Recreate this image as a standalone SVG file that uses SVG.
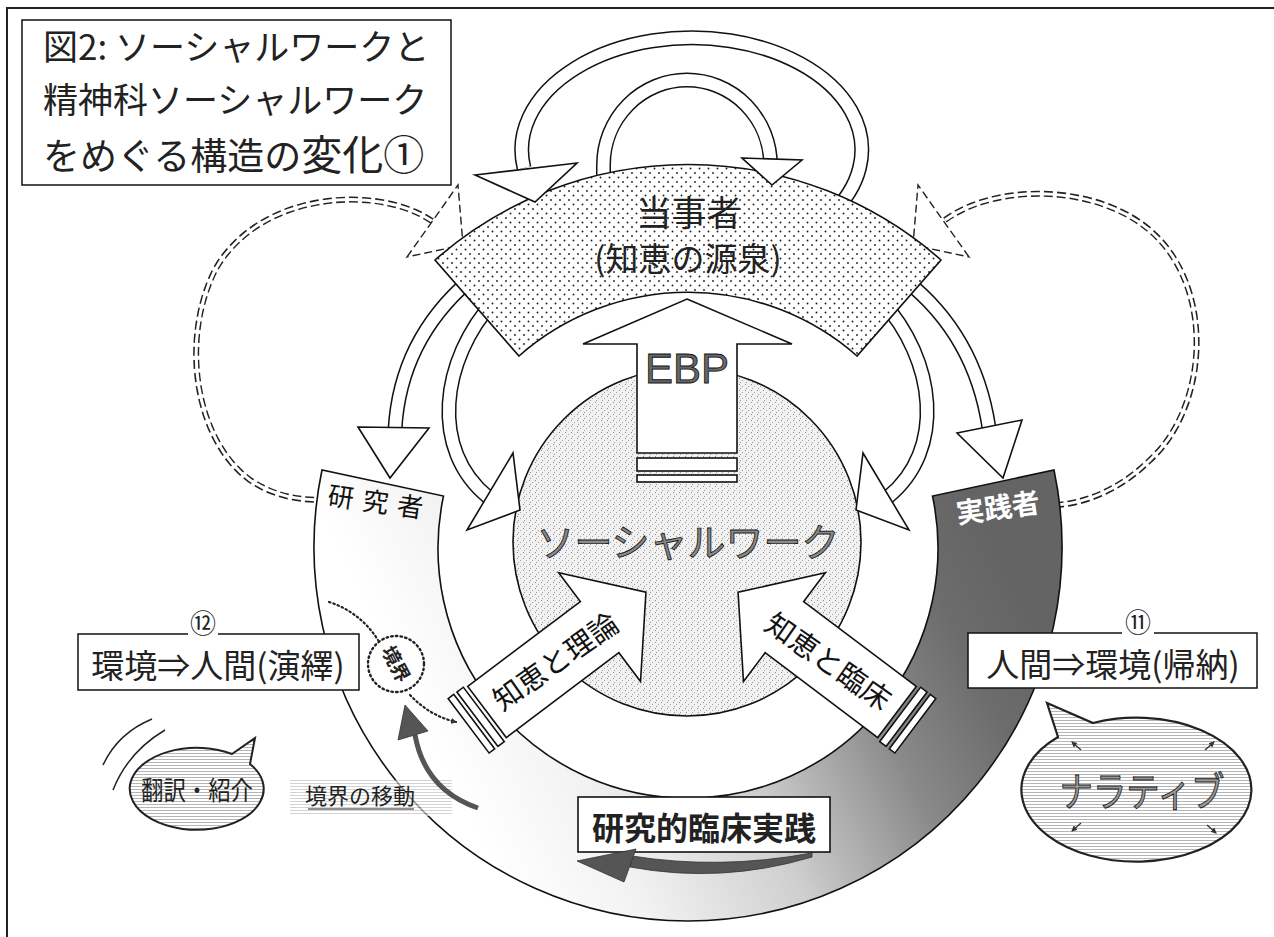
<svg xmlns="http://www.w3.org/2000/svg" width="1274" height="937" viewBox="0 0 1274 937">
<defs>
<style>
.jp{font-family:"Noto Sans CJK JP","Noto Sans",sans-serif}
.en{font-family:"Liberation Sans",Arial,sans-serif}
.ol{stroke:#111;stroke-width:1.6;stroke-linejoin:miter}
.wf{fill:#fff;stroke:#111;stroke-width:1.6}
.sb{fill:none;stroke:#111;stroke-width:15}
.sw{fill:none;stroke:#fff;stroke-width:12}
.dd1{fill:none;stroke:#222;stroke-width:6;stroke-dasharray:9 4}
.dd2{fill:none;stroke:#fff;stroke-width:3}
.dh{fill:#fff;stroke:#222;stroke-width:1.4;stroke-dasharray:8 4}
.ga{fill:#555;stroke:#333;stroke-width:0.8}
</style>
<pattern id="dots" width="9" height="9" patternUnits="userSpaceOnUse"><rect width="9" height="9" fill="#fff"/><circle cx="2" cy="2" r="0.95" fill="#222"/><circle cx="6.5" cy="6.5" r="0.95" fill="#222"/></pattern>
<pattern id="speck" width="6" height="6" patternUnits="userSpaceOnUse"><rect width="6" height="6" fill="#f1f1f1"/><rect x="1" y="0" width="1" height="1" fill="#8a8a8a"/><rect x="4" y="2" width="1" height="1" fill="#a5a5a5"/><rect x="2" y="4" width="1" height="1" fill="#999"/></pattern>
<pattern id="hl" width="6" height="3" patternUnits="userSpaceOnUse"><rect width="6" height="3" fill="#fff"/><rect width="6" height="1" fill="#b5b5b5"/></pattern>
<linearGradient id="ringG" gradientUnits="userSpaceOnUse" x1="470" y1="820" x2="1000" y2="560">
<stop offset="0" stop-color="#fff"/><stop offset="0.2" stop-color="#f2f2f2"/><stop offset="0.45" stop-color="#cfcfcf"/><stop offset="0.7" stop-color="#8a8a8a"/><stop offset="0.88" stop-color="#6c6c6c"/><stop offset="1" stop-color="#646464"/>
</linearGradient>
<g id="diag">
<rect x="-23" y="-34" width="7" height="68" class="wf"/>
<rect x="-12" y="-34" width="8" height="68" class="wf"/>
<polygon points="0,-32 141,-32 141,-68 199,0 141,68 141,32 0,32" class="wf"/>
</g>
<marker id="sm" markerWidth="6" markerHeight="6" refX="5" refY="3" orient="auto" markerUnits="userSpaceOnUse"><path d="M0,0 L6,3 L0,6 Z" fill="#333"/></marker>
</defs>

<rect width="1274" height="937" fill="#fff"/>
<path d="M7,937 L7,8 L1274,8" fill="none" stroke="#222" stroke-width="2"/>

<g id="dashed-loops">
<path class="dd1" d="M432,221 C380,185 260,190 215,270 C180,340 195,440 250,480 C275,497 300,500 325,500"/>
<path class="dd2" d="M432,221 C380,185 260,190 215,270 C180,340 195,440 250,480 C275,497 300,500 325,500"/>
<path class="dd1" d="M945,220 C1000,180 1110,185 1160,240 C1215,300 1205,410 1150,460 C1120,490 1085,503 1057,505"/>
<path class="dd2" d="M945,220 C1000,180 1110,185 1160,240 C1215,300 1205,410 1150,460 C1120,490 1085,503 1057,505"/>
<polygon class="dh" points="407,257 458,185 463,245"/>
<polygon class="dh" points="969,257 918,185 913,245"/>
</g>

<g id="ring">
<path d="M322,470 A374,374 0 1,0 1054,470 L932.5,496 A250,250 0 1,1 443.5,496 Z" fill="url(#ringG)" class="ol"/>
<text class="jp" x="380" y="512" font-size="26" fill="#111" text-anchor="middle" letter-spacing="9" transform="rotate(8 380 503)">研究者</text>
<text class="jp" x="998" y="518" font-size="28" font-weight="700" fill="#fff" text-anchor="middle" transform="rotate(-8 998 508)">実践者</text>
</g>

<g id="socialwork">
<circle cx="687" cy="542" r="174" fill="url(#speck)" class="ol"/>
<text class="jp" x="688" y="556" font-size="38" fill="#8a8a8a" stroke="#222" stroke-width="0.9" text-anchor="middle">ソーシャルワーク</text>
</g>

<g id="connectors">
<path class="sb" d="M830,215 A170,112 0 1,0 524,168"/>
<path class="sw" d="M830,215 A170,112 0 1,0 524,168"/>
<path class="sb" d="M603.5,195 L603.5,165 A83.5,85 0 0,1 770.5,165 L770.5,160"/>
<path class="sw" d="M603.5,195 L603.5,165 A83.5,85 0 0,1 770.5,165 L770.5,160"/>
<path class="sb" d="M470,280 Q400,340 395,430"/>
<path class="sw" d="M470,280 Q400,340 395,430"/>
<path class="sb" d="M495,300 C440,360 430,450 488,497"/>
<path class="sw" d="M495,300 C440,360 430,450 488,497"/>
<path class="sb" d="M905,280 Q975,335 989,428"/>
<path class="sw" d="M905,280 Q975,335 989,428"/>
<path class="sb" d="M881,300 C936,360 946,450 888,497"/>
<path class="sw" d="M881,300 C936,360 946,450 888,497"/>
</g>

<g id="tojisha">
<path d="M435,260 A383,383 0 0,1 941,260 L857,356 A256,256 0 0,0 519,356 Z" fill="url(#dots)" class="ol"/>
<text class="jp" x="689" y="226" font-size="35" fill="#222" text-anchor="middle">当事者</text>
<text class="jp" x="688" y="271" font-size="33" fill="#222" text-anchor="middle">(知恵の源泉)</text>
</g>

<g id="arrowheads">
<polygon class="wf" points="475,175 577,163 535,202"/>
<polygon class="wf" points="742,158 802,160 772,185"/>
<polygon class="wf" points="358,427 429,428 390,478"/>
<polygon class="wf" points="513,453 467,530 520,510"/>
<polygon class="wf" points="957,433 1022,420 1003,478"/>
<polygon class="wf" points="863,453 909,530 856,510"/>
</g>

<g id="ebp">
<polygon class="wf" points="687,299 792,344 737,344 737,453 637,453 637,344 583,344"/>
<rect x="637" y="458" width="100" height="13" class="wf"/>
<rect x="637" y="475" width="100" height="7" class="wf"/>
<text class="en" x="687" y="383" font-size="42" fill="#666" stroke="#111" stroke-width="0.8" text-anchor="middle">EBP</text>
</g>

<g id="chie-riron">
<use href="#diag" transform="translate(487,712) rotate(-37)"/>
<text class="jp" x="556" y="672" font-size="29" fill="#111" text-anchor="middle" transform="rotate(-35 556 662)">知恵と理論</text>
</g>

<g id="chie-rinsho">
<use href="#diag" transform="translate(897,712) scale(-1,1) rotate(-37)"/>
<text class="jp" x="828" y="672" font-size="29" fill="#111" text-anchor="middle" transform="rotate(35 828 662)">知恵と臨床</text>
</g>

<g id="title">
<rect x="22" y="20" width="429" height="165" fill="#fff" stroke="#111" stroke-width="1.5"/>
<text class="jp" x="43" y="60" font-size="35" fill="#222">図2: ソーシャルワークと</text>
<text class="jp" x="43" y="113" font-size="35" fill="#222">精神科ソーシャルワーク</text>
<text class="jp" x="43" y="170" fill="#222"><tspan font-size="37">をめぐる構造の</tspan><tspan font-size="41">変化①</tspan></text>
</g>

<g id="box12">
<rect x="78" y="634" width="281" height="56" fill="#fff" stroke="#111" stroke-width="1.5"/>
<rect x="188" y="628" width="30" height="10" fill="#fff"/>
<text class="jp" x="203" y="633" font-size="26" fill="#222" text-anchor="middle">⑫</text>
<text class="jp" x="218" y="678" font-size="33" fill="#222" text-anchor="middle">環境⇒人間(演繹)</text>
</g>

<g id="box11">
<rect x="968" y="633" width="289" height="55" fill="#fff" stroke="#111" stroke-width="1.5"/>
<rect x="1122" y="627" width="32" height="10" fill="#fff"/>
<text class="jp" x="1138" y="632" font-size="26" fill="#222" text-anchor="middle">⑪</text>
<text class="jp" x="1113" y="677" font-size="33" fill="#222" text-anchor="middle">人間⇒環境(帰納)</text>
</g>

<g id="boundary">
<path d="M329,602 Q360,612 378,640" fill="none" stroke="#222" stroke-width="2.2" stroke-dasharray="1.5 3" stroke-linecap="round"/>
<path d="M410,695 Q430,716 456,722" fill="none" stroke="#222" stroke-width="2.2" stroke-dasharray="1.5 3" stroke-linecap="round" marker-end="url(#sm)"/>
<circle cx="396" cy="664" r="28" fill="#fff" stroke="#222" stroke-width="2.4" stroke-dasharray="1.5 3.2" stroke-linecap="round"/>
<text class="jp" x="396" y="671" font-size="19" font-weight="700" fill="#222" text-anchor="middle" transform="rotate(62 396 664)">境界</text>
</g>

<g id="boundary-move">
<rect x="290" y="780" width="162" height="36" fill="url(#hl)" opacity="0.6"/>
<text class="jp" x="360" y="804" font-size="22" fill="#222" text-anchor="middle">境界の移動</text>
<line x1="308" y1="809" x2="414" y2="809" stroke="#222" stroke-width="1.2"/>
<path d="M478,808 Q425,790 415,735" fill="none" stroke="#555" stroke-width="5"/>
<polygon class="ga" points="405,705 398,740 428,731"/>
</g>

<g id="kenkyu-rinsho">
<rect x="578" y="797" width="252" height="55" fill="#fff" stroke="#111" stroke-width="1.6"/>
<text class="jp" x="704" y="840" font-size="32" font-weight="700" fill="#222" text-anchor="middle">研究的臨床実践</text>
<path class="ga" d="M812,853 Q720,870 632,856 L630,867 Q722,884 812,857 Z"/>
<polygon class="ga" points="577,861 636,849 624,882"/>
</g>

<g id="honyaku">
<path d="M152,719 Q118,733 103,765" fill="none" stroke="#222" stroke-width="1.5"/>
<path d="M165,730 Q128,752 113,790" fill="none" stroke="#222" stroke-width="1.5"/>
<path d="M232,754 L255,738 L250,764 A67,41 0 1,1 232,754 Z" fill="url(#hl)" stroke="#222" stroke-width="2"/>
<text class="jp" x="197" y="800" font-size="26" fill="#222" text-anchor="middle" textLength="112" lengthAdjust="spacingAndGlyphs">翻訳・紹介</text>
</g>

<g id="narrative">
<path d="M1058,737 L1047,703 L1093,723 A115,72 0 1,1 1058,737 Z" fill="url(#hl)" stroke="#222" stroke-width="2.2"/>
<text class="jp" x="1142" y="806" font-size="40" fill="#999" stroke="#222" stroke-width="1" text-anchor="middle" textLength="165" lengthAdjust="spacingAndGlyphs">ナラティブ</text>
<line x1="1081" y1="750" x2="1072" y2="742" stroke="#333" stroke-width="1.4" marker-end="url(#sm)"/>
<line x1="1205" y1="750" x2="1214" y2="742" stroke="#333" stroke-width="1.4" marker-end="url(#sm)"/>
<line x1="1081" y1="823" x2="1072" y2="831" stroke="#333" stroke-width="1.4" marker-end="url(#sm)"/>
<line x1="1207" y1="825" x2="1216" y2="833" stroke="#333" stroke-width="1.4" marker-end="url(#sm)"/>
</g>
</svg>
